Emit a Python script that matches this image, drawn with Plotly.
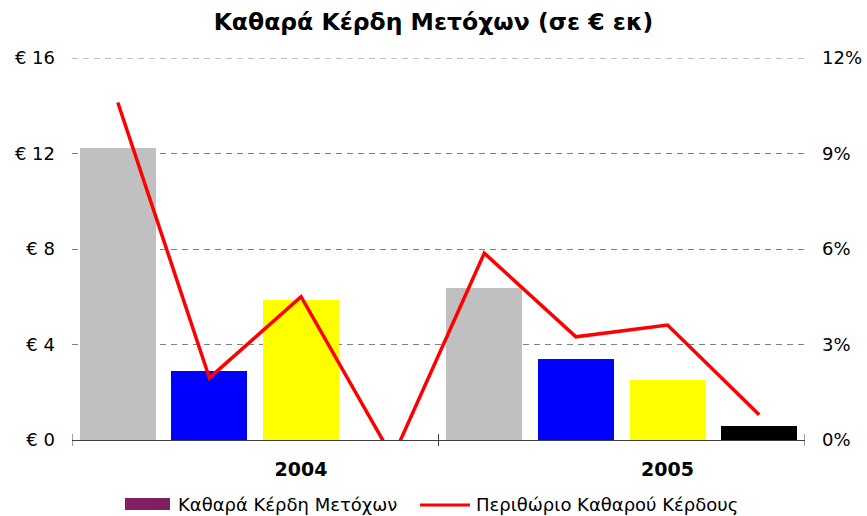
import plotly.graph_objects as go

# ---- data ----
categories = [0, 1, 2, 3, 4, 5, 6, 7]
group_labels = ["2004", "2005"]
group_label_pos = [2, 6]
eps_values = [12.23, 2.89, 5.86, None, 6.37, 3.39, 2.51, 0.59]
bar_colors = ["#C0C0C0", "#0000FF", "#FFFF00", "#000000",
              "#C0C0C0", "#0000FF", "#FFFF00", "#000000"]
margin_values = [0.106, 0.0195, 0.045, -0.0055, 0.0587, 0.0324, 0.0361, 0.0079]
left_ticks = [0, 4, 8, 12, 16]
left_tick_text = ["€ 0", "€ 4", "€ 8", "€ 12", "€ 16"]
right_ticks = [0, 0.03, 0.06, 0.09, 0.12]
right_tick_text = ["0%", "3%", "6%", "9%", "12%"]
group_bounds = [-0.5, 3.5, 7.5]

FONT = "DejaVu Sans"
PL, PR, PT, PB = 72, 805, 58, 440
PW, PH = PR - PL, PB - PT


def px(x):
    return (x - PL) / PW


def py(y):
    return (PB - y) / PH


fig = go.Figure()
fig.add_trace(go.Bar(
    x=categories, y=eps_values, marker=dict(color=bar_colors, line=dict(width=0)),
    width=0.83, name="Καθαρά Κέρδη Μετόχων", showlegend=False, hoverinfo="y"))
fig.add_trace(go.Scatter(
    x=categories, y=margin_values, yaxis="y2", mode="lines",
    line=dict(color="#FF0000", width=3.5), name="Περιθώριο Καθαρού Κέρδους",
    showlegend=False))

shapes = [
    # top gridline (at the edge of the range, plotly skips it)
    dict(type="line", xref="paper", yref="y", x0=0, x1=1,
         y0=left_ticks[-1], y1=left_ticks[-1], layer="below",
         line=dict(color="#808080", width=1, dash="6px,5px")),
]
for b in group_bounds:
    shapes.append(dict(type="line", xref="x", yref="paper", x0=b, x1=b,
                       y0=py(446), y1=py(434), line=dict(color="#404040", width=1)))
# manual legend
shapes.append(dict(type="rect", xref="paper", yref="paper",
                   x0=px(125), x1=px(170), y0=py(498), y1=py(510),
                   fillcolor="#7F1F60", line=dict(width=0)))
shapes.append(dict(type="line", xref="paper", yref="paper",
                   x0=px(420), x1=px(470), y0=py(505), y1=py(505),
                   line=dict(color="#FF0000", width=3)))

annotations = [
    dict(xref="paper", yref="paper", x=px(176), y=py(504),
         text="Καθαρά Κέρδη Μετόχων", showarrow=False, xanchor="left",
         yanchor="middle", font=dict(family=FONT, size=18, color="black")),
    dict(xref="paper", yref="paper", x=px(474), y=py(504),
         text="Περιθώριο Καθαρού Κέρδους", showarrow=False, xanchor="left",
         yanchor="middle", font=dict(family=FONT, size=18, color="black")),
]

fig.update_layout(
    width=867, height=516,
    margin=dict(l=PL, r=867 - PR, t=PT, b=516 - PB, autoexpand=False),
    paper_bgcolor="white", plot_bgcolor="white",
    font=dict(family=FONT, size=18, color="black"),
    title=dict(text="<b>Καθαρά Κέρδη Μετόχων (σε € εκ)</b>", x=0.5, xanchor="center",
               y=1 - 22 / 516, yanchor="middle",
               font=dict(family=FONT, size=23.5, color="black")),
    bargap=0,
    xaxis=dict(range=[-0.5, 7.5], tickvals=group_label_pos,
               ticktext=["<b>" + g + "</b>" for g in group_labels],
               ticks="", showgrid=False, zeroline=False, showline=True,
               linecolor="#404040", linewidth=1, tickfont=dict(size=19),
               ticklabelstandoff=12, automargin=False),
    yaxis=dict(range=[0, 16], tickvals=left_ticks, ticktext=left_tick_text,
               showgrid=True, gridcolor="#808080", griddash="6px,5px", gridwidth=1,
               zeroline=False, showline=False, ticks="", ticklabelstandoff=16,
               automargin=False),
    yaxis2=dict(range=[0, 0.12], tickvals=right_ticks,
                ticktext=right_tick_text,
                overlaying="y", side="right", showgrid=False, zeroline=False,
                showline=False, ticks="", ticklabelstandoff=16, automargin=False),
    shapes=shapes, annotations=annotations,
)

fig.write_html("out.html", config={"displayModeBar": False},
               post_script="document.body.style.margin='0';document.body.style.padding='0';")
